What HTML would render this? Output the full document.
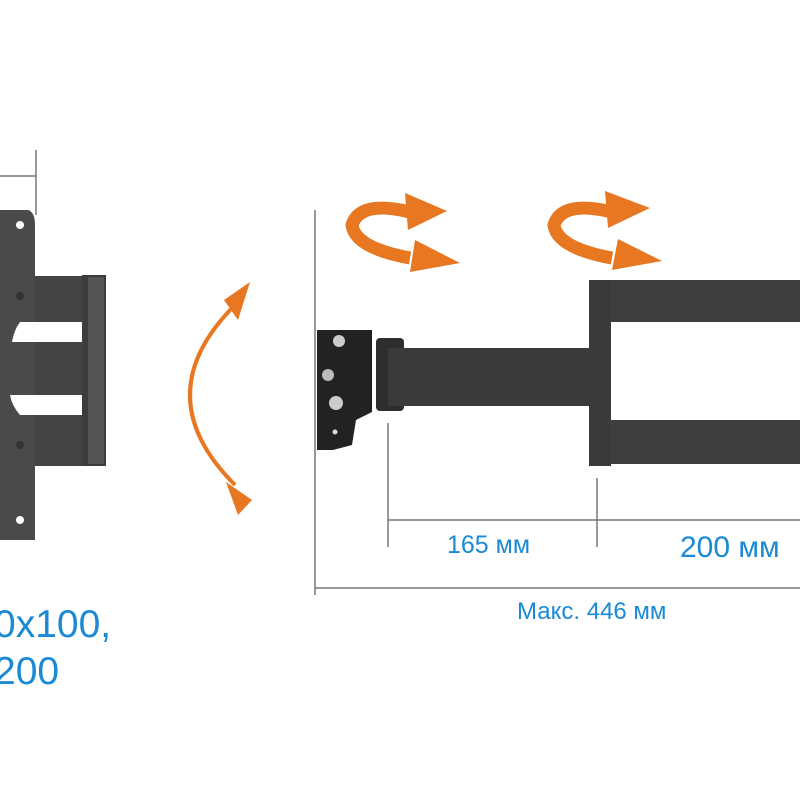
<!DOCTYPE html>
<html><head><style>body{margin:0;background:#fff}svg{display:block}</style></head><body>
<svg width="800" height="800" viewBox="0 0 800 800" xmlns="http://www.w3.org/2000/svg">
<rect width="800" height="800" fill="#fff"/>
<g stroke="#777" stroke-width="1.5" fill="none">
<line x1="36" y1="150" x2="36" y2="215"/><line x1="0" y1="176" x2="36" y2="176"/>
</g>
<path d="M0 210 L28 210 Q35 212 35 225 L35 540 L0 540 Z" fill="#4a4a4a"/>
<rect x="35" y="276" width="60" height="190" fill="#444"/>
<path d="M20 322 L90 322 L90 342 L12 342 Q14 330 20 322 Z" fill="#fff"/>
<path d="M10 395 L90 395 L90 415 L20 415 Q12 406 10 395 Z" fill="#fff"/>
<rect x="82" y="275" width="24" height="191" fill="#3c3c3c"/>
<rect x="88" y="277" width="16" height="187" fill="#555"/>
<circle cx="20" cy="225" r="4" fill="#fff"/><circle cx="20" cy="296" r="4" fill="#333"/>
<circle cx="20" cy="445" r="4" fill="#333"/><circle cx="20" cy="520" r="4" fill="#fff"/>
<path d="M235 305 Q145 395 235 485" stroke="#e87722" stroke-width="4" fill="none"/>
<polygon points="250,282 238,320 224,300" fill="#e87722"/>
<polygon points="252,500 226,482 238,515" fill="#e87722"/>
<line x1="315" y1="210" x2="315" y2="595" stroke="#777" stroke-width="1.5"/>
<path d="M317 330 L372 330 L372 412 L356 420 L352 445 L333 450 L317 450 Z" fill="#222"/>
<circle cx="339" cy="341" r="6" fill="#ccc"/><circle cx="328" cy="375" r="6" fill="#bbb"/><circle cx="336" cy="403" r="7" fill="#ccc"/>
<circle cx="335" cy="432" r="2.5" fill="#ddd"/>
<rect x="376" y="338" width="28" height="73" rx="4" fill="#2e2e2e"/>
<rect x="388" y="348" width="212" height="58" fill="#3a3a3a"/>
<rect x="589" y="280" width="22" height="186" fill="#3a3a3a"/>
<rect x="610" y="280" width="190" height="42" fill="#3e3e3e"/>
<rect x="610" y="420" width="190" height="44" fill="#3e3e3e"/>
<g fill="none" stroke="#e87722" stroke-width="13">
<path d="M410 212 Q360 200 352 225 Q355 248 410 258"/>
<path d="M612 212 Q562 200 554 225 Q557 248 612 258"/>
</g>
<g fill="#e87722">
<polygon points="447,211 405,193 408,230"/><polygon points="460,263 415,240 410,272"/>
<polygon points="650,208 605,191 608,228"/><polygon points="662,261 618,239 612,270"/>
</g>
<g stroke="#777" stroke-width="1.5">
<line x1="388" y1="423" x2="388" y2="547"/><line x1="597" y1="478" x2="597" y2="547"/>
<line x1="388" y1="520" x2="800" y2="520"/><line x1="315" y1="588" x2="800" y2="588"/>
</g>
<g font-family="Liberation Sans, sans-serif" fill="#1a8ad4">
<text x="447" y="553" font-size="25">165 мм</text>
<text x="680" y="557" font-size="30">200 мм</text>
<text x="517" y="619" font-size="24">Макс. 446 мм</text>
<text x="-6" y="637" font-size="39">0x100,</text>
<text x="-6" y="684" font-size="39">200</text>
</g>
</svg>
</body></html>
